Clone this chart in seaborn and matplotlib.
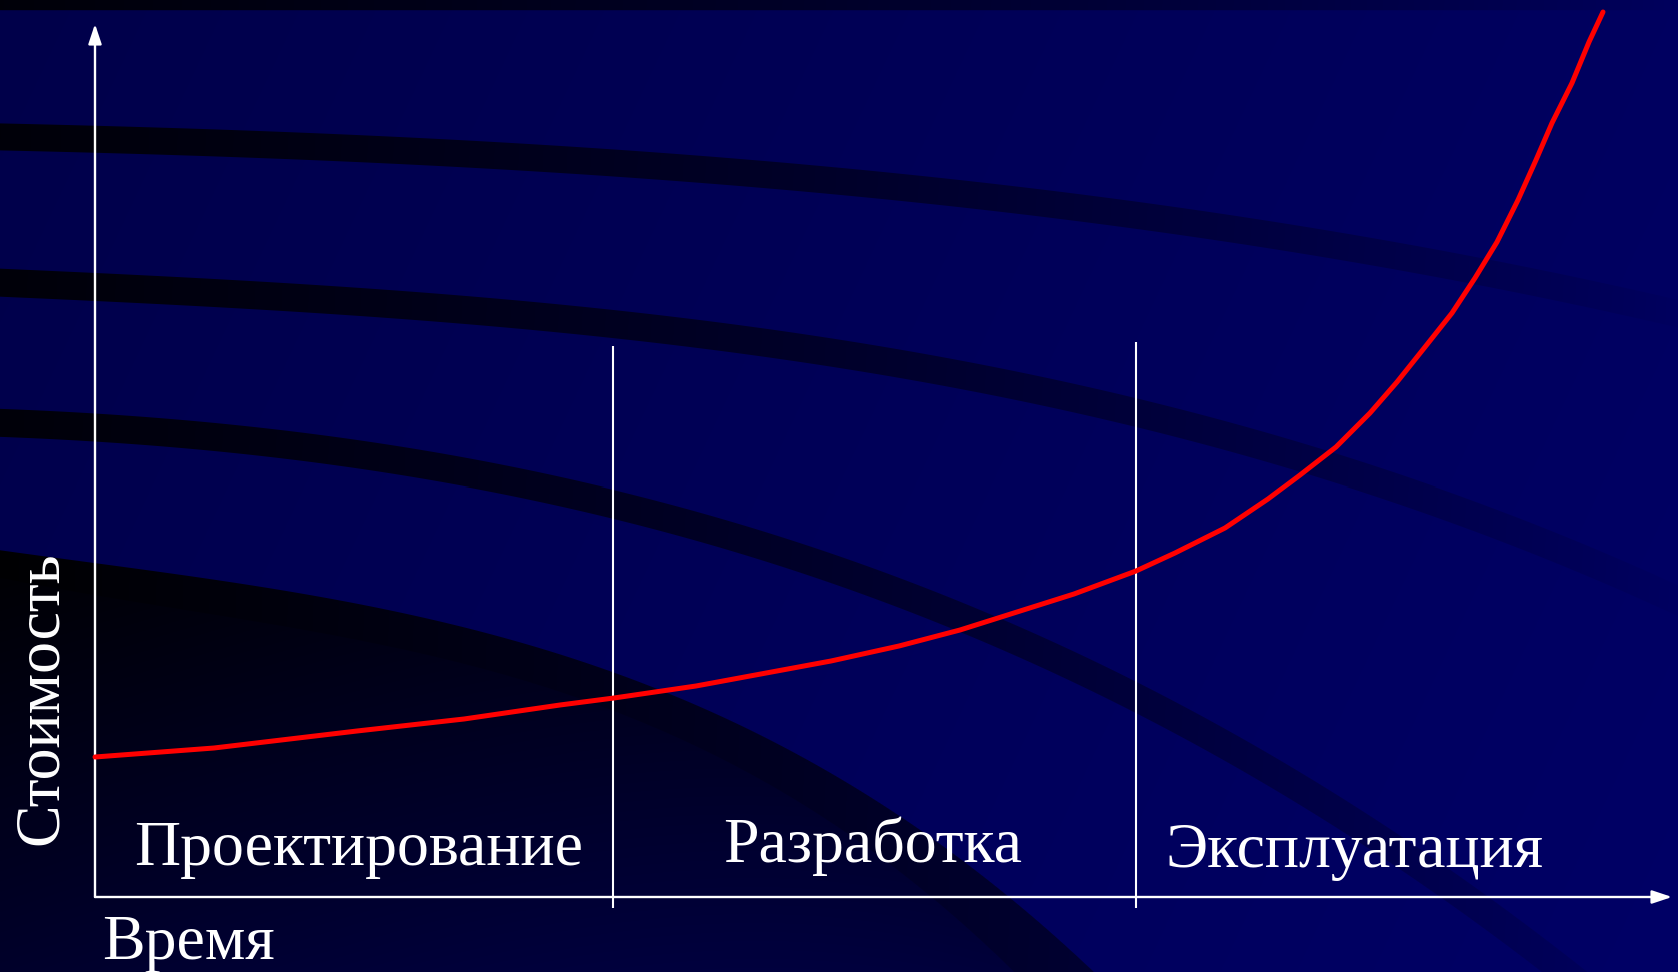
import numpy as np
import pandas as pd
import seaborn as sns
import matplotlib
matplotlib.use('Agg')
import matplotlib.pyplot as plt

# Данные: время и стоимость (условные единицы)
time = [0.00, 1.19, 2.62, 3.69, 4.65, 5.19, 6.01, 7.36, 8.04, 8.65, 9.79, 10.41,
        10.80, 11.30, 11.73, 12.05, 12.41, 12.75, 13.02, 13.30, 13.57, 13.80,
        14.02, 14.23, 14.41, 14.57, 14.77, 14.94, 15.08]
cost = [1.40, 1.49, 1.66, 1.78, 1.92, 1.99, 2.11, 2.36, 2.51, 2.67, 3.03, 3.26,
        3.44, 3.69, 3.98, 4.22, 4.50, 4.84, 5.15, 5.50, 5.84, 6.19, 6.55,
        6.97, 7.37, 7.74, 8.14, 8.55, 8.85]
phase_names = ['Проектирование', 'Разработка', 'Эксплуатация']
phase_bounds = [5.18, 10.41]
phase_tops = [5.51, 5.55]

df = pd.DataFrame({'time': time, 'cost': cost})

# Фон слайда: синий градиент с тёмными дугами (в пикселях)
W, H = 1678, 972
xx = np.arange(W) + 0.5
yy = np.arange(H) + 0.5
X, Y = np.meshgrid(xx, yy)


def curve(px, py, deg=3):
    p = np.polyfit(px, py, deg)
    return np.polyval(p, X), np.polyval(np.polyder(p), X)


keep = np.ones((H, W))
fade = 0.88 * np.clip(1 - X / 1700, 0, 1) ** 0.8

# верхняя полоса
keep *= 1 - np.clip(11.7 - Y, 0, 1) * fade

arcs = [
    ([0, 560, 1118, 1475, 1654], [138, 160, 215, 270, 310], 27),
    ([0, 560, 1120, 1385, 1564, 1678], [284, 318, 413, 486, 543, 606], 28),
    ([0, 300, 560, 917, 1120, 1332, 1511, 1560], [425, 446, 488, 611, 685, 803, 930, 972], 28),
]
for px, py, w in arcs:
    f, d = curve(px, py)
    dist = np.abs(Y - f) / np.sqrt(1 + d ** 2)
    cov = np.clip(w / 2 - dist + 0.5, 0, 1)
    keep *= 1 - cov * fade

# тёмная область внизу слева
fo, dfo = curve([0, 214, 357, 560, 774, 917, 1024, 1085], [553, 573, 603, 662, 746, 819, 903, 972])
fi, dfi = curve([0, 107, 560, 917, 1006], [583, 589, 699, 873, 972])
cov_o = np.clip((Y - fo) / np.sqrt(1 + dfo ** 2) + 0.5, 0, 1)
cov_i = np.clip((Y - fi) / np.sqrt(1 + dfi ** 2) + 0.5, 0, 1)
band = np.clip(cov_o - cov_i, 0, 1)
a_band = np.clip(0.97 - 0.00045 * X, 0, 1)
a_int = np.clip(0.97 - 0.0012 * (Y - fo) - 0.0005 * X, 0.3, 0.97)
keep *= 1 - np.clip(band * a_band + cov_i * a_int, 0, 1)

img = np.zeros((H, W, 3))
img[..., 2] = (74 + 22 * X / W + 6 * Y / H) * keep / 255

sns.set_style('white')
plt.rcParams['font.family'] = ['Liberation Serif', 'DejaVu Serif']

fig = plt.figure(figsize=(16.78, 9.72), dpi=100)
ax = fig.add_axes([0, 0, 1, 1])
ax.imshow(img, extent=(-0.95, 15.83, -0.75, 8.97), origin='upper',
          aspect='auto', interpolation='nearest', zorder=0)

# Оси со стрелками
arrow = dict(arrowstyle='-|>,head_length=0.6,head_width=0.2', color='white',
             lw=1.7, mutation_scale=20, shrinkA=0, shrinkB=0)
ax.annotate('', xy=(0, 8.73), xytext=(0, 0), arrowprops=arrow, zorder=3)
ax.annotate('', xy=(15.77, 0), xytext=(0, 0), arrowprops=arrow, zorder=3)

# Границы этапов
ax.vlines(phase_bounds, -0.11, phase_tops, colors='white', lw=1.5, zorder=2)

# Кривая стоимости
sns.lineplot(data=df, x='time', y='cost', color='red', lw=3.6, ax=ax,
             sort=False, estimator=None, solid_capstyle='round', zorder=4)

# Подписи
for name, x, y in zip(phase_names, [0.39, 6.28, 10.70], [0.32, 0.35, 0.30]):
    ax.text(x, y, name, color='white', fontsize=46, ha='left', va='baseline')
ax.text(0.07, -0.62, 'Время', color='white', fontsize=46, ha='left', va='baseline')
ax.text(-0.38, 0.52, 'Стоимость', color='white', fontsize=46, rotation=90,
        rotation_mode='anchor', ha='left', va='baseline')

ax.set_xlim(-0.95, 15.83)
ax.set_ylim(-0.75, 8.97)
ax.set_axis_off()

fig.savefig('out.png', dpi=100)
